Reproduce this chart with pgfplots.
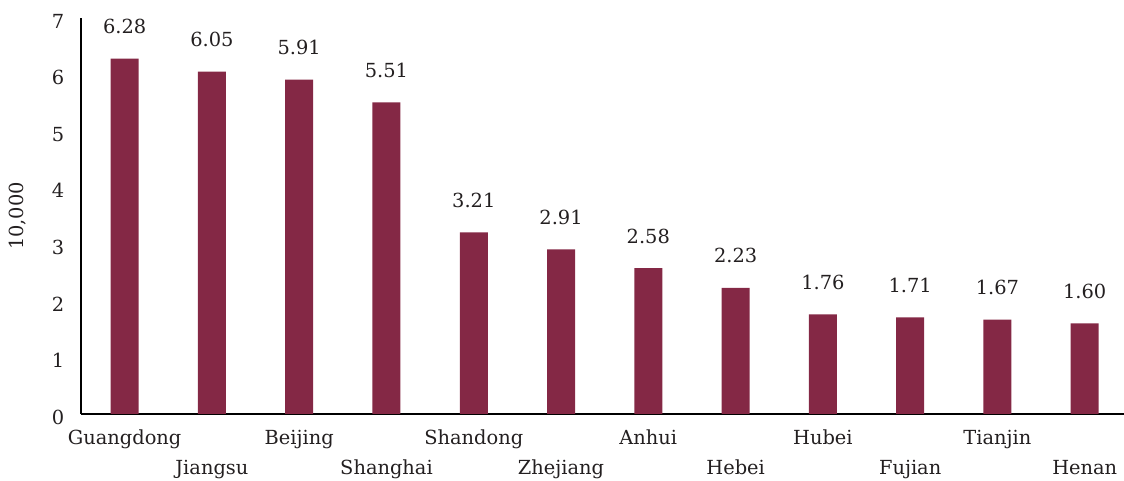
\documentclass[border=0pt]{standalone}
\usepackage{fontspec}
\setmainfont{DejaVu Serif}
\usepackage{pgfplots}
\pgfplotsset{compat=1.18}
\definecolor{barc}{HTML}{842845}
\definecolor{txt}{HTML}{231F20}
\begin{document}
\fontsize{9.7pt}{11pt}\selectfont
\begin{tikzpicture}
\begin{axis}[
  scale only axis,
  width=521.5pt, height=198pt,
  at={(40.5pt,33.5pt)}, anchor=south west,
  xmin=-0.5, xmax=11.45,
  ymin=0, ymax=7,
  ytick={0,1,...,7},
  axis x line*=bottom, axis y line*=left,
  axis line style={black, line width=0.9pt, -},
  major tick length=0pt,
  tick label style={font=\fontsize{9.7pt}{11pt}\selectfont, text=txt},
  /pgf/number format/assume math mode=true,
  yticklabel style={anchor=east, xshift=-5pt, yshift=-1.5pt},
  xtick={0,2,4,6,8,10},
  xticklabels={Guangdong,Beijing,Shandong,Anhui,Hubei,Tianjin},
  xticklabel style={anchor=base, yshift=-15.5pt},
  extra x ticks={1,3,5,7,9,11},
  extra x tick labels={Jiangsu,Shanghai,Zhejiang,Hebei,Fujian,Henan},
  extra x tick style={xticklabel style={yshift=-15pt}, major tick length=0pt},
  ylabel={10,000},
  ylabel style={at={(axis description cs:-0.0604,0.5)}, anchor=center, rotate=0, text=txt, font=\fontsize{9.7pt}{11pt}\selectfont},
  ybar, bar width=14pt,
  nodes near coords,
  nodes near coords style={anchor=base, yshift=12.5pt, text=txt, font=\fontsize{9.7pt}{11pt}\selectfont, /pgf/number format/.cd, fixed, precision=2, fixed zerofill, assume math mode=true},
  clip=false,
]
\addplot[fill=barc, draw=none] coordinates {
(0,6.28) (1,6.05) (2,5.91) (3,5.51) (4,3.21) (5,2.91)
(6,2.58) (7,2.23) (8,1.76) (9,1.71) (10,1.67) (11,1.60)};
\end{axis}
\pgfresetboundingbox
\path (0,0) rectangle (562pt,240.5pt);
\end{tikzpicture}
\end{document}
